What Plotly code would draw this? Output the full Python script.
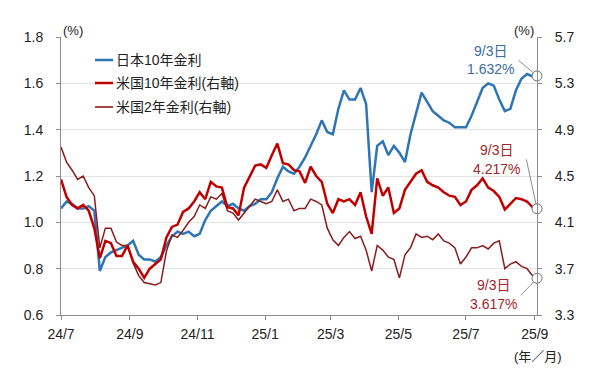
import plotly.graph_objects as go

dates = [
    "2024-07-01", "2024-07-06", "2024-07-11", "2024-07-16", "2024-07-21", "2024-07-26", "2024-07-31",
    "2024-08-05", "2024-08-10", "2024-08-15", "2024-08-20", "2024-08-25", "2024-08-30",
    "2024-09-04", "2024-09-09", "2024-09-14", "2024-09-19", "2024-09-24", "2024-09-29",
    "2024-10-04", "2024-10-09", "2024-10-14", "2024-10-19", "2024-10-24", "2024-10-29",
    "2024-11-03", "2024-11-08", "2024-11-13", "2024-11-18", "2024-11-23", "2024-11-28",
    "2024-12-03", "2024-12-08", "2024-12-13", "2024-12-18", "2024-12-23", "2024-12-28",
    "2025-01-02", "2025-01-07", "2025-01-12", "2025-01-17", "2025-01-22", "2025-01-27",
    "2025-02-01", "2025-02-06", "2025-02-11", "2025-02-16", "2025-02-21", "2025-02-26",
    "2025-03-03", "2025-03-08", "2025-03-13", "2025-03-18", "2025-03-23", "2025-03-28",
    "2025-04-02", "2025-04-07", "2025-04-12", "2025-04-17", "2025-04-22", "2025-04-27",
    "2025-05-02", "2025-05-07", "2025-05-12", "2025-05-17", "2025-05-22", "2025-05-27",
    "2025-06-01", "2025-06-06", "2025-06-11", "2025-06-16", "2025-06-21", "2025-06-26",
    "2025-07-01", "2025-07-06", "2025-07-11", "2025-07-16", "2025-07-21", "2025-07-26", "2025-07-31",
    "2025-08-05", "2025-08-10", "2025-08-15", "2025-08-20", "2025-08-25", "2025-08-30",
    "2025-09-03",
]

jp10 = [
    1.06, 1.09, 1.08, 1.06, 1.06, 1.07, 1.05,
    0.79, 0.85, 0.87, 0.88, 0.89, 0.90,
    0.92, 0.86, 0.84, 0.84, 0.83, 0.85,
    0.90, 0.94, 0.96, 0.95, 0.96, 0.94,
    0.95, 1.01, 1.05, 1.07, 1.09, 1.07,
    1.08, 1.06, 1.05, 1.07, 1.08, 1.10,
    1.10, 1.13, 1.19, 1.24, 1.22, 1.21,
    1.24, 1.28, 1.33, 1.38, 1.44, 1.39,
    1.38, 1.49, 1.57, 1.53, 1.53, 1.58,
    1.51, 1.13, 1.33, 1.35, 1.29, 1.33,
    1.30, 1.26, 1.38, 1.47, 1.56, 1.52,
    1.48, 1.46, 1.44, 1.43, 1.41, 1.41,
    1.41, 1.46, 1.52, 1.58, 1.60, 1.59, 1.53,
    1.48, 1.49, 1.57, 1.62, 1.64, 1.63,
    1.632,
]

us10 = [
    4.47, 4.32, 4.25, 4.22, 4.25, 4.20, 4.05,
    3.79, 3.94, 3.92, 3.81, 3.81, 3.90,
    3.76, 3.70, 3.62, 3.70, 3.74, 3.78,
    3.97, 4.06, 4.08, 4.19, 4.22, 4.28,
    4.36, 4.30, 4.45, 4.41, 4.40, 4.23,
    4.22, 4.16, 4.40, 4.50, 4.59, 4.60,
    4.57, 4.68, 4.78, 4.61, 4.60, 4.55,
    4.54, 4.44, 4.58, 4.50, 4.45, 4.26,
    4.18, 4.30, 4.28, 4.30, 4.25, 4.36,
    4.15, 4.00, 4.48, 4.33, 4.40, 4.18,
    4.22, 4.38, 4.45, 4.52, 4.55, 4.45,
    4.42, 4.40, 4.36, 4.33, 4.32, 4.25,
    4.28, 4.38, 4.42, 4.48, 4.40, 4.37, 4.32,
    4.21, 4.26, 4.31, 4.30, 4.28, 4.23,
    4.217,
]

us2 = [
    4.75, 4.62, 4.55, 4.47, 4.50, 4.40, 4.33,
    3.88, 4.05, 4.05, 3.93, 3.90, 3.90,
    3.75, 3.64, 3.58, 3.57, 3.56, 3.58,
    3.85, 3.99, 3.97, 4.03, 4.10, 4.15,
    4.25, 4.22, 4.32, 4.30, 4.35, 4.20,
    4.18, 4.12, 4.18, 4.24, 4.30, 4.28,
    4.26, 4.28, 4.38, 4.28, 4.30, 4.20,
    4.22, 4.22, 4.30, 4.28, 4.25, 4.05,
    3.95, 3.90, 3.97, 4.02, 3.96, 3.98,
    3.86, 3.68, 3.90, 3.86, 3.80, 3.78,
    3.62, 3.82, 3.88, 4.00, 3.97, 3.98,
    3.95, 4.00, 3.94, 3.92, 3.88, 3.74,
    3.80, 3.88, 3.88, 3.90, 3.87, 3.92, 3.94,
    3.70, 3.74, 3.76, 3.72, 3.70, 3.64,
    3.617,
]

series_names = ["日本10年金利", "米国10年金利(右軸)", "米国2年金利(右軸)"]
tick_dates = ["2024-07-01", "2024-09-01", "2024-11-01", "2025-01-01",
              "2025-03-01", "2025-05-01", "2025-07-01", "2025-09-01"]
tick_labels = ["24/7", "24/9", "24/11", "25/1", "25/3", "25/5", "25/7", "25/9"]
end_label = "9/3日"

C_JP = "#2E75B6"
C_10 = "#C00000"
C_2 = "#8A1C1C"
FONT = "Liberation Sans, Noto Sans CJK JP"

# page has an 8px body margin: figure starts at window (8, 8)
OFF = 8
L, R, T, B = 61, 537, 37, 315   # plot area in window pixels

fig = go.Figure()
fig.add_trace(go.Scatter(x=dates, y=jp10, mode="lines", line=dict(color=C_JP, width=2.5),
                         name=series_names[0], yaxis="y"))
fig.add_trace(go.Scatter(x=dates, y=us2, mode="lines", line=dict(color=C_2, width=1.5),
                         name=series_names[2], yaxis="y2"))
fig.add_trace(go.Scatter(x=dates, y=us10, mode="lines", line=dict(color=C_10, width=2.5),
                         name=series_names[1], yaxis="y2"))

circ = dict(size=10, color="white", line=dict(color="#707070", width=1))
fig.add_trace(go.Scatter(x=[dates[-1]], y=[jp10[-1]], mode="markers", marker=circ,
                         yaxis="y", cliponaxis=False, hoverinfo="skip"))
fig.add_trace(go.Scatter(x=[dates[-1], dates[-1]], y=[us10[-1], us2[-1]], mode="markers",
                         marker=circ, yaxis="y2", cliponaxis=False, hoverinfo="skip"))

def px_x(px):
    return (px - L) / float(R - L)

def px_y(py):
    return (B - py) / float(B - T)

def label(cx, cy, text, size=14, color="#222222", xanchor="center"):
    return dict(xref="paper", yref="paper", x=px_x(cx), y=px_y(cy), text=text,
                showarrow=False, xanchor=xanchor, yanchor="middle",
                font=dict(family=FONT, size=size, color=color))

annotations = []
shapes = []

leg = [(60, C_JP, 2.5, series_names[0]), (83, C_10, 2.5, series_names[1]), (107, C_2, 1.6, series_names[2])]
for py, col, w, name in leg:
    shapes.append(dict(type="line", xref="paper", yref="paper", x0=px_x(95), x1=px_x(113),
                       y0=px_y(py), y1=px_y(py), line=dict(color=col, width=w)))
    annotations.append(label(114, py, name, xanchor="left"))

annotations.append(label(73, 31, "(%)", size=13))
annotations.append(label(524, 31, "(%)", size=13))
annotations.append(label(538, 356, "(年／月)", size=13))

C_JPT = "#3B6E9E"
C_RT = "#A02828"
labs = [
    (490, 51, 69, C_JPT, f"{jp10[-1]:.3f}%"),
    (496, 150, 169, C_RT, f"{us10[-1]:.3f}%"),
    (493, 285, 304, C_RT, f"{us2[-1]:.3f}%"),
]
for cx, y1, y2, col, val in labs:
    annotations.append(label(cx, y1, end_label, color=col))
    annotations.append(label(cx, y2, val, color=col))

lead = [("y", jp10[-1], -20, -17), ("y2", us10[-1], -11, -51), ("y2", us2[-1], -17, 18)]
for yr, yv, ax, ay in lead:
    annotations.append(dict(x=dates[-1], y=yv, xref="x", yref=yr, text="", showarrow=True,
                            arrowhead=0, arrowwidth=0.8, arrowcolor="#707070",
                            ax=ax, ay=ay, standoff=5))

W, H = 600 - OFF, 372 - OFF
fig.update_layout(
    width=W, height=H, autosize=False,
    margin=dict(l=L - OFF, r=W - (R - OFF), t=T - OFF, b=H - (B - OFF), pad=0),
    paper_bgcolor="white", plot_bgcolor="white",
    showlegend=False,
    font=dict(family=FONT, size=14, color="#222222"),
    xaxis=dict(type="date", range=["2024-07-01", "2025-09-03"], tickvals=tick_dates,
               ticktext=tick_labels, showgrid=False, showline=True, linecolor="#8C8C8C",
               linewidth=1, ticks="outside", ticklen=4, tickcolor="#8C8C8C",
               ticklabelstandoff=2, zeroline=False,
               tickfont=dict(family=FONT, size=14, color="#222222")),
    yaxis=dict(range=[0.6, 1.8], tick0=0.6, dtick=0.2, tickformat=".1f",
               showgrid=True, gridcolor="#E3E3E3", gridwidth=1, showline=True,
               linecolor="#8C8C8C", linewidth=1, ticks="outside", ticklen=4,
               tickcolor="#8C8C8C", zeroline=False, ticklabelstandoff=10,
               tickfont=dict(family=FONT, size=14, color="#222222")),
    yaxis2=dict(range=[3.3, 5.7], tick0=3.3, dtick=0.4, tickformat=".1f",
                overlaying="y", side="right", showgrid=False, showline=True,
                linecolor="#8C8C8C", linewidth=1, ticks="outside", ticklen=4,
                tickcolor="#8C8C8C", zeroline=False, ticklabelstandoff=10,
                tickfont=dict(family=FONT, size=14, color="#222222")),
    annotations=annotations,
    shapes=shapes,
)

fig.write_html("out.html")
